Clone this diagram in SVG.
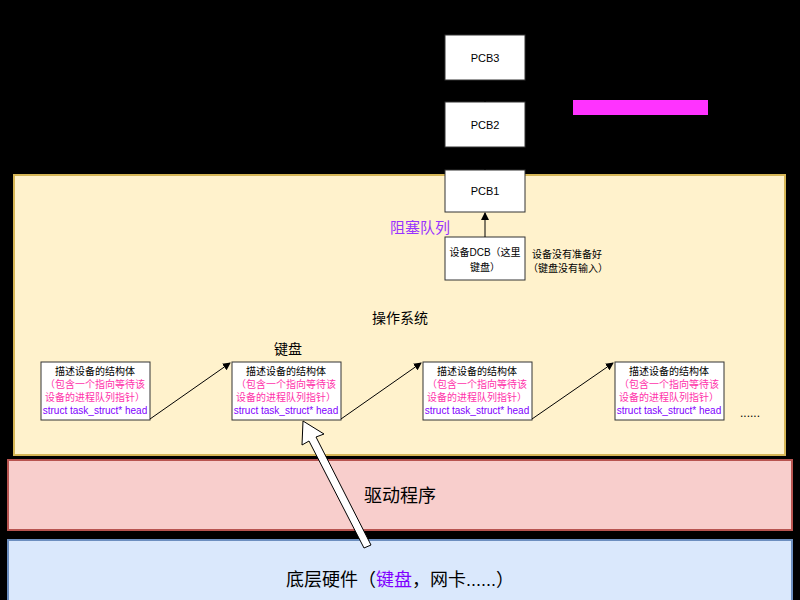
<svg xmlns="http://www.w3.org/2000/svg" width="800" height="600" viewBox="0 0 800 600">
<style>
text{font-family:"Liberation Sans","Noto Sans CJK SC",sans-serif;text-anchor:middle}
.box{fill:#fff;stroke:#333;stroke-width:1}
.s{font-size:10px}
.p{fill:#ff33aa}
.v{fill:#7f00ff}
</style>
<defs><marker id="a" markerWidth="8" markerHeight="8" refX="7" refY="4" orient="auto"><path d="M0,0L8,4L0,8z" fill="#000"/></marker></defs>
<rect width="800" height="600" fill="#000"/>
<g id="os"><rect x="14" y="175" width="771" height="280" fill="#fff2cc" stroke="#d6b656" stroke-width="2"/><text x="400" y="323" font-size="14">操作系统</text></g>
<g id="driver"><rect x="8" y="460" width="784" height="70" fill="#f8cecc" stroke="#b85450" stroke-width="2"/><text x="400" y="502" font-size="18">驱动程序</text></g>
<g id="hw"><rect x="8" y="540" width="784" height="62" fill="#dae8fc" stroke="#6c8ebf" stroke-width="2"/><text x="400" y="586" font-size="18">底层硬件（<tspan class="v">键盘</tspan>，网卡......）</text></g>
<g id="pcb3"><rect class="box" x="445" y="35" width="80" height="45"/><text x="485" y="62" font-size="11">PCB3</text></g>
<g id="pcb2"><rect class="box" x="445" y="102" width="80" height="45"/><text x="485" y="129" font-size="11">PCB2</text></g>
<g id="pcb1"><rect class="box" x="445" y="170" width="80" height="42"/><text x="485" y="195" font-size="11">PCB1</text></g>
<g id="dcb"><rect class="box" x="445" y="237" width="80" height="43"/><text x="485" y="256" class="s">设备DCB（这里</text><text x="485" y="271" class="s">键盘）</text></g>
<text x="532" y="258" class="s" style="text-anchor:start">设备没有准备好</text>
<text x="528" y="272" class="s" style="text-anchor:start">（键盘没有输入）</text>
<text x="450" y="233" font-size="15" fill="#9933ff" style="text-anchor:end">阻塞队列</text>
<rect x="573" y="100" width="135" height="15" fill="#ff33ff"/>
<text x="288" y="354" font-size="14">键盘</text>
<g id="d1"><rect class="box" x="41" y="362" width="109" height="58"/><text x="95" y="375" class="s">描述设备的结构体</text><text x="95" y="388" class="s p">（包含一个指向等待该</text><text x="95" y="401" class="s p">设备的进程队列指针）</text><text x="95" y="414" class="s v">struct task_struct* head</text></g>
<g id="d2"><rect class="box" x="232" y="362" width="109" height="58"/><text x="286" y="375" class="s">描述设备的结构体</text><text x="286" y="388" class="s p">（包含一个指向等待该</text><text x="286" y="401" class="s p">设备的进程队列指针）</text><text x="286" y="414" class="s v">struct task_struct* head</text></g>
<g id="d3"><rect class="box" x="423" y="362" width="109" height="58"/><text x="477" y="375" class="s">描述设备的结构体</text><text x="477" y="388" class="s p">（包含一个指向等待该</text><text x="477" y="401" class="s p">设备的进程队列指针）</text><text x="477" y="414" class="s v">struct task_struct* head</text></g>
<g id="d4"><rect class="box" x="615" y="362" width="109" height="58"/><text x="669" y="375" class="s">描述设备的结构体</text><text x="669" y="388" class="s p">（包含一个指向等待该</text><text x="669" y="401" class="s p">设备的进程队列指针）</text><text x="669" y="414" class="s v">struct task_struct* head</text></g>
<text x="750" y="417" font-size="12">......</text>
<g id="connectors" fill="none" stroke="#000">
<line x1="485" y1="237" x2="485" y2="213" marker-end="url(#a)"/>
<line x1="485" y1="170" x2="485" y2="148"/>
<line x1="485" y1="102" x2="485" y2="81"/>
<line x1="150" y1="419" x2="230" y2="363" marker-end="url(#a)"/>
<line x1="341" y1="419" x2="421" y2="363" marker-end="url(#a)"/>
<line x1="532" y1="419" x2="613" y2="363" marker-end="url(#a)"/>
<path d="M371,545L316,437L324,434L303,421L302,445L309,441L364,548z" fill="#fff" stroke="#000"/>
</g>
</svg>
